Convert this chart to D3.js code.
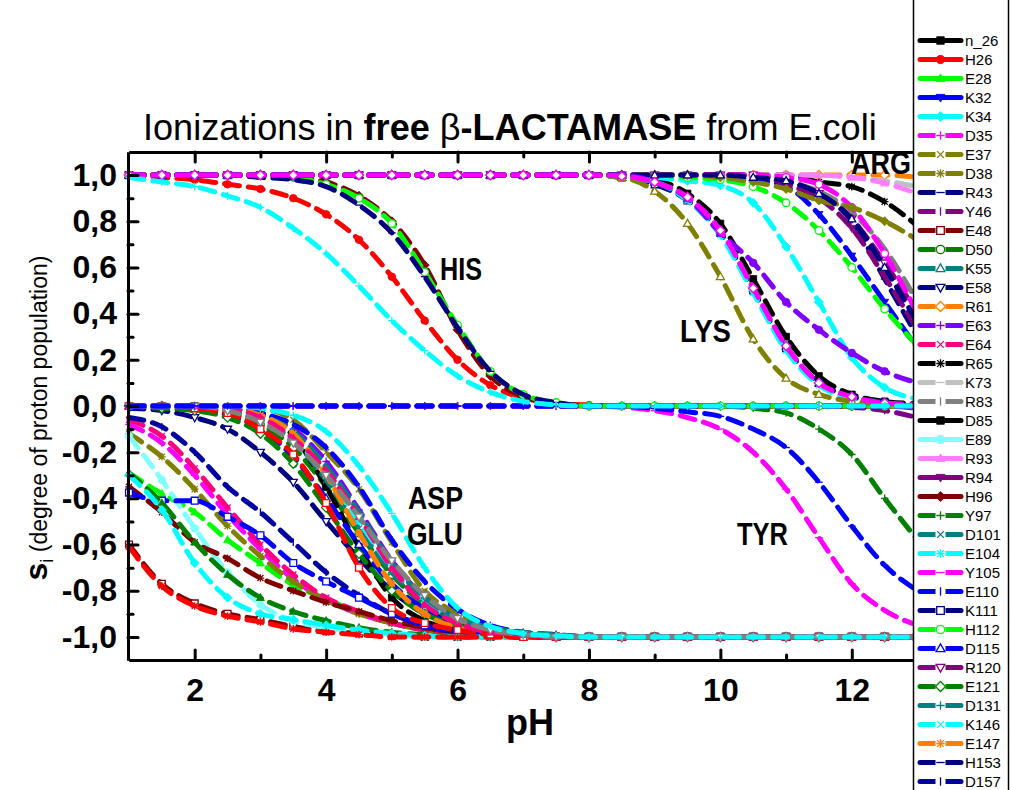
<!DOCTYPE html>
<html><head><meta charset="utf-8">
<script src="https://cdn.jsdelivr.net/npm/d3@7"></script>
<style>body{margin:0;background:#fff}svg{display:block}text{font-family:"Liberation Sans",Arial,sans-serif}</style>
</head><body><svg id="c" width="1011" height="790"></svg>
<script>
// ---------- data ----------
const pH = [1,1.5,2,2.5,3,3.5,4,4.5,5,5.5,6,6.5,7,7.5,8,8.5,9,9.5,10,10.5,11,11.5,12,12.5,13];
const xMajorTicks = [2,4,6,8,10,12];
const xMinorTicks = [3,5,7,9,11];
const xTickLabels = ["2","4","6","8","10","12"];
const yMajorTicks = [-1,-0.8,-0.6,-0.4,-0.2,0,0.2,0.4,0.6,0.8,1];
const yMinorTicks = [-0.9,-0.7,-0.5,-0.3,-0.1,0.1,0.3,0.5,0.7,0.9];
const yTickLabels = ["-1,0","-0,8","-0,6","-0,4","-0,2","0,0","0,2","0,4","0,6","0,8","1,0"];

const v_n_26 = [1,1,1,1,1,1,1,1,1,1,1,1,1,1,1,.995,.98,.92,.79,.55,.3,.13,.05,.02,.01];
const v_H26  = [1,.99,.98,.96,.94,.9,.83,.72,.56,.37,.2,.09,.035,.012,.004,0,0,0,0,0,0,0,0,0,0];
const v_E28  = [-.29,-.38,-.46,-.58,-.68,-.775,-.835,-.895,-.94,-.97,-.985,-.995,-1,-1,-1,-1,-1,-1,-1,-1,-1,-1,-1,-1,-1];
const v_K32  = [1,1,1,1,1,1,1,1,1,1,1,1,1,1,1,1,1,1,.99,.98,.95,.83,.65,.45,.25];
const v_K34  = [1,1,1,1,1,1,1,1,1,1,1,1,1,1,1,1,.99,.975,.955,.88,.69,.45,.21,.08,.03];
const v_D35  = [-.08,-.16,-.3,-.47,-.62,-.75,-.84,-.9,-.94,-.97,-.985,-.995,-1,-1,-1,-1,-1,-1,-1,-1,-1,-1,-1,-1,-1];
const v_E37  = [0,0,0,0,-.01,-.06,-.2,-.36,-.59,-.8,-.9,-.96,-.985,-.995,-1,-1,-1,-1,-1,-1,-1,-1,-1,-1,-1];
const v_D38  = [-.12,-.22,-.36,-.52,-.65,-.76,-.84,-.9,-.94,-.97,-.985,-.995,-1,-1,-1,-1,-1,-1,-1,-1,-1,-1,-1,-1,-1];
const v_R43  = [1,1,1,1,1,1,1,1,1,1,1,1,1,1,1,1,1,1,1,1,.97,.92,.8,.55,.3];
const v_Y46  = [0,0,0,0,0,0,0,0,0,0,0,0,0,0,0,0,0,0,0,0,0,0,-.005,-.02,-.05];
const v_E48  = [-.6,-.77,-.855,-.9,-.925,-.955,-.975,-.985,-.995,-1,-1,-1,-1,-1,-1,-1,-1,-1,-1,-1,-1,-1,-1,-1,-1];
const v_D50  = [0,0,-.01,-.03,-.08,-.18,-.35,-.55,-.73,-.86,-.93,-.97,-.99,-1,-1,-1,-1,-1,-1,-1,-1,-1,-1,-1,-1];
const v_K55  = [1,1,1,1,1,1,1,1,1,1,1,1,1,1,1,.99,.97,.9,.76,.51,.26,.1,.04,.015,.005];
const v_E58  = [-.01,-.02,-.05,-.1,-.2,-.33,-.5,-.66,-.8,-.9,-.95,-.98,-.99,-1,-1,-1,-1,-1,-1,-1,-1,-1,-1,-1,-1];
const v_R61  = [1,1,1,1,1,1,1,1,1,1,1,1,1,1,1,1,1,1,1,1,1,1,1,1,.99];
const v_E63  = [0,0,0,-.01,-.04,-.1,-.24,-.45,-.67,-.83,-.92,-.97,-.99,-1,-1,-1,-1,-1,-1,-1,-1,-1,-1,-1,-1];
const v_E64  = [-.06,-.13,-.27,-.44,-.6,-.73,-.83,-.89,-.94,-.97,-.985,-.995,-1,-1,-1,-1,-1,-1,-1,-1,-1,-1,-1,-1,-1];
const v_R65  = [1,1,1,1,1,1,1,1,1,1,1,1,1,1,1,1,1,1,1,1,1,.97,.95,.885,.78];
const v_K73  = [1,1,1,1,1,1,1,1,1,1,1,1,1,1,1,1,1,1,1,1,1,1,.99,.975,.95];
const v_R83  = [1,1,1,1,1,1,1,1,1,1,1,1,1,1,1,1,1,1,1,1,.97,.93,.84,.68,.45];
const v_D85  = [0,0,0,-.01,-.03,-.13,-.35,-.61,-.83,-.93,-.97,-.99,-1,-1,-1,-1,-1,-1,-1,-1,-1,-1,-1,-1,-1];
const v_E89  = [-.13,-.32,-.53,-.72,-.86,-.93,-.96,-.98,-.99,-1,-1,-1,-1,-1,-1,-1,-1,-1,-1,-1,-1,-1,-1,-1,-1];
const v_R93  = [1,1,1,1,1,1,1,1,1,1,1,1,1,1,1,1,1,1,1,1,1,1,.99,.965,.92];
const v_R94  = [1,1,1,1,1,1,1,1,1,1,1,1,1,1,1,1,1,1,1,1,.96,.9,.77,.56,.33];
const v_H96  = [1,1,1,1,1,.99,.97,.91,.8,.61,.33,.13,.04,.01,0,0,0,0,0,0,0,0,0,0,0];
const v_Y97  = [0,0,0,0,0,0,0,0,0,0,0,0,0,0,0,0,0,0,0,-.01,-.03,-.1,-.21,-.4,-.58];
const v_D101 = [0,0,-.01,-.02,-.06,-.15,-.32,-.53,-.72,-.85,-.93,-.97,-.99,-1,-1,-1,-1,-1,-1,-1,-1,-1,-1,-1,-1];
const v_E104 = [0,0,0,-.01,-.05,-.14,-.3,-.5,-.7,-.85,-.93,-.97,-.99,-1,-1,-1,-1,-1,-1,-1,-1,-1,-1,-1,-1];
const v_Y105 = [0,0,0,0,0,0,0,0,0,0,0,0,0,0,0,-.005,-.02,-.05,-.1,-.2,-.36,-.57,-.77,-.885,-.95];
const v_E110 = [0,0,0,-.01,-.03,-.08,-.18,-.35,-.58,-.76,-.88,-.95,-.98,-.99,-1,-1,-1,-1,-1,-1,-1,-1,-1,-1,-1];
const v_K111 = [1,1,1,1,1,1,1,1,1,1,1,1,1,1,1,.99,.96,.89,.75,.5,.25,.1,.04,.015,.005];
const v_H112 = [1,1,1,1,1,.99,.96,.9,.79,.58,.35,.15,.05,.015,0,0,0,0,0,0,0,0,0,0,0];
const v_D115 = [0,0,-.01,-.04,-.1,-.22,-.4,-.6,-.77,-.88,-.95,-.98,-.99,-1,-1,-1,-1,-1,-1,-1,-1,-1,-1,-1,-1];
const v_R120 = [1,1,1,1,1,1,1,1,1,1,1,1,1,1,1,1,1,1,1,1,.97,.92,.81,.62,.4];
const v_E121 = [0,-.01,-.02,-.05,-.12,-.25,-.44,-.64,-.8,-.9,-.95,-.98,-.99,-1,-1,-1,-1,-1,-1,-1,-1,-1,-1,-1,-1];
const v_D131 = [0,0,0,-.01,-.04,-.11,-.26,-.46,-.68,-.83,-.92,-.96,-.98,-.99,-1,-1,-1,-1,-1,-1,-1,-1,-1,-1,-1];
const v_K146 = [1,1,1,1,1,1,1,1,1,1,1,1,1,1,1,.99,.97,.89,.74,.49,.24,.09,.03,.01,0];
const v_E147 = [0,0,0,-.01,-.04,-.12,-.3,-.55,-.77,-.9,-.96,-.985,-1,-1,-1,-1,-1,-1,-1,-1,-1,-1,-1,-1,-1];
const v_H153 = [1,1,1,1,.99,.98,.95,.87,.75,.56,.34,.15,.05,.015,0,0,0,0,0,0,0,0,0,0,0];
const v_D157 = [-.05,-.09,-.2,-.35,-.46,-.59,-.72,-.82,-.9,-.95,-.98,-.99,-1,-1,-1,-1,-1,-1,-1,-1,-1,-1,-1,-1,-1];

const seriesNames = ["n_26","H26","E28","K32","K34","D35","E37","D38","R43","Y46","E48","D50","K55","E58","R61","E63","E64","R65","K73","R83","D85","E89","R93","R94","H96","Y97","D101","E104","Y105","E110","K111","H112","D115","R120","E121","D131","K146","E147","H153","D157"];
const seriesValues = [v_n_26,v_H26,v_E28,v_K32,v_K34,v_D35,v_E37,v_D38,v_R43,v_Y46,v_E48,v_D50,v_K55,v_E58,v_R61,v_E63,v_E64,v_R65,v_K73,v_R83,v_D85,v_E89,v_R93,v_R94,v_H96,v_Y97,v_D101,v_E104,v_Y105,v_E110,v_K111,v_H112,v_D115,v_R120,v_E121,v_D131,v_K146,v_E147,v_H153,v_D157];
const seriesColors = ["#000000","#ff0000","#00ff00","#0000ff","#00ffff","#ff00ff","#808000","#808000","#000080","#800080","#800000","#008000","#008080","#000080","#ff8000","#8000ff","#ff0080","#000000","#c0c0c0","#808080","#000000","#80ffff","#ff80ff","#800080","#800000","#008000","#008080","#00ffff","#ff00ff","#0000ff","#000080","#00ff00","#0000ff","#800080","#008000","#008080","#00ffff","#ff8000","#000080","#0000a0"];
const seriesSymbols = ["sq","ci","tu","td","di","plus","x","star","dash","bar","osq","oci","otu","otd","odi","plus","x","star","dash","bar","sq","ci","tu","td","di","plus","x","star","dash","bar","osq","oci","otu","otd","odi","plus","x","star","dash","bar"];

// curves whose legend entries are cut off below the bottom of the reference picture
const u_lysOlive  = [1,1,1,1,1,1,1,1,1,1,1,1,1,1,1,.99,.93,.79,.56,.29,.12,.05,.02,.01,0];
const u_limeHigh  = [1,1,1,1,1,1,1,1,1,1,1,1,1,1,1,1,1,.99,.98,.95,.88,.76,.6,.42,.26];
const u_argMag    = [1,1,1,1,1,1,1,1,1,1,1,1,1,1,1,1,1,1,1,1,.99,.96,.86,.66,.4];
const u_argOlive  = [1,1,1,1,1,1,1,1,1,1,1,1,1,1,1,1,1,1,.99,.97,.94,.89,.86,.8,.72];
const u_argNavy   = [1,1,1,1,1,1,1,1,1,1,1,1,1,1,1,1,1,1,1,.99,.975,.92,.81,.6,.36];
const u_violet    = [1,1,1,1,1,1,1,1,1,1,1,1,1,1,1,1,.97,.9,.75,.62,.45,.33,.23,.15,.1];
const u_lysMag    = [1,1,1,1,1,1,1,1,1,1,1,1,1,1,1,.995,.97,.905,.76,.51,.26,.1,.04,.013,.005];
const u_acidMar   = [-.35,-.46,-.59,-.66,-.745,-.8,-.85,-.89,-.93,-.96,-.98,-.99,-1,-1,-1,-1,-1,-1,-1,-1,-1,-1,-1,-1,-1];
const u_acidBlue  = [-.375,-.41,-.41,-.48,-.56,-.68,-.76,-.83,-.9,-.95,-.98,-.99,-1,-1,-1,-1,-1,-1,-1,-1,-1,-1,-1,-1,-1];
const u_acidGreen = [-.29,-.42,-.59,-.73,-.83,-.89,-.93,-.96,-.98,-.99,-1,-1,-1,-1,-1,-1,-1,-1,-1,-1,-1,-1,-1,-1,-1];
const u_acidCyan  = [-.3,-.45,-.68,-.83,-.9,-.925,-.95,-.97,-.985,-.995,-1,-1,-1,-1,-1,-1,-1,-1,-1,-1,-1,-1,-1,-1,-1];
const u_acidRed   = [-.61,-.78,-.866,-.91,-.935,-.965,-.98,-.99,-1,-1,-1,-1,-1,-1,-1,-1,-1,-1,-1,-1,-1,-1,-1,-1,-1];
const u_acidRedSq = [0,0,-.01,-.03,-.1,-.21,-.42,-.7,-.875,-.94,-.97,-.99,-1,-1,-1,-1,-1,-1,-1,-1,-1,-1,-1,-1,-1];
const u_acidPink  = [0,0,0,-.01,-.05,-.14,-.28,-.48,-.7,-.86,-.94,-.98,-.99,-1,-1,-1,-1,-1,-1,-1,-1,-1,-1,-1,-1];
const u_acidGray  = [0,0,0,-.02,-.07,-.16,-.3,-.48,-.67,-.82,-.92,-.97,-.99,-1,-1,-1,-1,-1,-1,-1,-1,-1,-1,-1,-1];
const u_acidCyanL = [0,0,0,0,-.01,-.04,-.11,-.26,-.465,-.7,-.875,-.955,-.985,-.995,-1,-1,-1,-1,-1,-1,-1,-1,-1,-1,-1];
const u_tyrViolet = [0,0,0,0,0,0,0,0,0,0,0,0,0,0,0,0,0,0,0,0,0,0,0,0,-.01];
const u_tyrBlue   = [0,0,0,0,0,0,0,0,0,0,0,0,0,0,0,0,-.01,-.025,-.045,-.1,-.18,-.33,-.52,-.69,-.8];
const u_hisCyan   = [.99,.97,.95,.91,.86,.77,.66,.52,.37,.24,.13,.06,.02,.005,0,0,0,0,0,0,0,0,0,0,0];
const extraValues  = [u_lysOlive,u_limeHigh,u_argMag,u_argOlive,u_argNavy,u_violet,u_lysMag,u_acidMar,u_acidBlue,u_acidGreen,u_acidCyan,u_acidRed,u_acidRedSq,u_acidPink,u_acidGray,u_acidCyanL,u_tyrViolet,u_tyrBlue,u_hisCyan];
const extraColors  = ["#808000","#00ff00","#ff00ff","#808000","#000080","#8000ff","#ff00ff","#800000","#0000ff","#008000","#00ffff","#ff0000","#ff0000","#ff0080","#808080","#00ffff","#8000ff","#0000ff","#00ffff"];
const extraSymbols = ["otu","oci","oci","di","otu","ci","odi","star","osq","tu","di","star","osq","tu","otd","plus","plus","dash","plus"];

// ---------- drawing ----------
const W = 1011, H = 790;
const x = d3.scaleLinear().domain([1,13]).range([129,917.5]);
const y = d3.scaleLinear().domain([-1.1,1.1]).range([660,152]);
const svg = d3.select("#c");
svg.append("rect").attr("width",W).attr("height",H).attr("fill","#fff");

function sym(t, r){
  const plus = `M${-r},0H${r}M0,${-r}V${r}`;
  const k = r*0.8;
  const cross = `M${-k},${-k}L${k},${k}M${-k},${k}L${k},${-k}`;
  switch(t){
    case "sq": case "osq": { const s=r*0.9; return `M${-s},${-s}H${s}V${s}H${-s}Z`; }
    case "ci": case "oci": return `M${r},0A${r},${r} 0 1,1 ${-r},0A${r},${r} 0 1,1 ${r},0Z`;
    case "tu": case "otu": return `M0,${-r*1.1}L${r*1.05},${r*0.75}L${-r*1.05},${r*0.75}Z`;
    case "td": case "otd": return `M0,${r*1.1}L${r*1.05},${-r*0.75}L${-r*1.05},${-r*0.75}Z`;
    case "di": case "odi": return `M0,${-r*1.2}L${r*1.2},0L0,${r*1.2}L${-r*1.2},0Z`;
    case "plus": return plus;
    case "x": return cross;
    case "star": return plus + cross;
    case "dash": return `M${-r},0H${r}`;
    case "bar": return `M0,${-r}V${r}`;
  }
}
function styleSym(sel, t, c){
  if (["sq","ci","tu","td","di"].includes(t)) sel.attr("fill",c).attr("stroke",c).attr("stroke-width",0.8);
  else if (t[0]==="o") sel.attr("fill","#fff").attr("stroke",c).attr("stroke-width",1.3);
  else sel.attr("fill","none").attr("stroke",c).attr("stroke-width",1.3);
}

svg.append("defs").append("clipPath").attr("id","plotclip")
  .append("rect").attr("x",118).attr("y",140).attr("width",913-118).attr("height",535);
const plot = svg.append("g").attr("clip-path","url(#plotclip)");

const line = d3.line().x((d,i)=>x(pH[i])).y(d=>y(d)).curve(d3.curveMonotoneX);

function drawSeries(vals, col, s){
  const g = plot.append("g");
  g.append("path").attr("d", line(vals)).attr("fill","none").attr("stroke",col)
    .attr("stroke-width",5).attr("stroke-linecap","round").attr("stroke-dasharray","15,9");
  g.selectAll("path.m").data(vals).join("path").attr("class","m")
    .attr("transform",(d,i)=>`translate(${x(pH[i])},${y(d)})`)
    .attr("d", sym(s,3.8)).call(styleSym, s, col);
}
seriesValues.forEach((v,i)=>drawSeries(v, seriesColors[i], seriesSymbols[i]));
extraValues.forEach((v,i)=>drawSeries(v, extraColors[i], extraSymbols[i]));

// axes
function styleAxis(g){
  g.select(".domain").attr("stroke","#000").attr("stroke-width",3);
  g.selectAll(".tick line").attr("stroke","#000").attr("stroke-width",3).attr("stroke-linecap","round");
  g.selectAll(".tick text").attr("fill","#000").attr("font-weight","bold").attr("font-size",32)
    .attr("font-family",'"Liberation Sans",Arial,sans-serif');
}
svg.append("g").attr("transform",`translate(0,${y(-1.1)})`)
  .call(d3.axisBottom(x).tickValues(xMajorTicks).tickFormat((d,i)=>xTickLabels[i]).tickSize(-10).tickSizeOuter(0).tickPadding(18))
  .call(styleAxis);
svg.append("g").attr("transform",`translate(0,${y(-1.1)})`)
  .call(d3.axisBottom(x).tickValues(xMinorTicks).tickFormat("").tickSize(-5).tickSizeOuter(0))
  .call(styleAxis);
svg.append("g").attr("transform",`translate(0,${y(1.1)})`)
  .call(d3.axisTop(x).tickValues(xMajorTicks).tickFormat("").tickSize(-10).tickSizeOuter(0))
  .call(styleAxis);
svg.append("g").attr("transform",`translate(0,${y(1.1)})`)
  .call(d3.axisTop(x).tickValues(xMinorTicks).tickFormat("").tickSize(-5).tickSizeOuter(0))
  .call(styleAxis);
svg.append("g").attr("transform",`translate(${x(1)-1},0)`)
  .call(d3.axisLeft(y).tickValues(yMajorTicks).tickFormat((d,i)=>yTickLabels[i]).tickSize(-10).tickSizeOuter(0).tickPadding(11))
  .call(styleAxis);
svg.append("g").attr("transform",`translate(${x(1)-1},0)`)
  .call(d3.axisLeft(y).tickValues(yMinorTicks).tickFormat("").tickSize(-5).tickSizeOuter(0))
  .call(styleAxis);

// axis titles
svg.append("text").attr("x",530).attr("y",735).attr("text-anchor","middle")
  .attr("font-weight","bold").attr("font-size",36).text("pH");
const yl = svg.append("text").attr("transform","translate(47,418) rotate(-90)").attr("text-anchor","middle");
yl.append("tspan").attr("font-weight","bold").attr("font-size",32).text("s");
yl.append("tspan").attr("font-size",18).attr("dy",6).text("i");
yl.append("tspan").attr("font-size",23).attr("dy",-6).text(" (degree of proton population)");

// title
function fitText(sel, x0, base, width){
  const w = sel.node().getBBox().width;
  sel.attr("transform",`translate(${x0},${base}) scale(${width/w},1)`);
}
const title = svg.append("text").attr("font-size",37);
title.append("tspan").text("Ionizations in ");
title.append("tspan").attr("font-weight","bold").text("free");
title.append("tspan").text(" \u03b2");
title.append("tspan").attr("font-weight","bold").text("-LACTAMASE");
title.append("tspan").text(" from E.coli");
fitText(title, 143, 140, 734);

// annotations
const notes = [["HIS",440,280,42],["LYS",680,342,51],["ARG",851,174,60],["ASP",408,509,55],["GLU",407,545,56],["TYR",737,545,51]];
notes.forEach(n=>{
  const t = svg.append("text").attr("font-weight","bold").attr("font-size",32).text(n[0]);
  fitText(t, n[1], n[2], n[3]);
});

// legend
const lg = svg.append("g");
lg.append("rect").attr("x",913.5).attr("y",-5).attr("width",95).attr("height",H+10)
  .attr("fill","#fff").attr("stroke","#000").attr("stroke-width",1.5);
seriesNames.forEach((nm,i)=>{
  const yy = 40.5 + i*19.0;
  const c = seriesColors[i], s = seriesSymbols[i];
  lg.append("line").attr("x1",920).attr("x2",961).attr("y1",yy).attr("y2",yy)
    .attr("stroke",c).attr("stroke-width",5).attr("stroke-linecap","round");
  if (!["sq","ci","tu","td","di"].includes(s))
    lg.append("rect").attr("x",935.5).attr("y",yy-5).attr("width",10).attr("height",10).attr("fill","#fff");
  lg.append("path").attr("transform",`translate(940.5,${yy})`).attr("d",sym(s,4.2)).call(styleSym,s,c);
  lg.append("text").attr("x",965).attr("y",yy+5).attr("font-size",15).attr("fill","#000").text(nm);
});
</script></body></html>
